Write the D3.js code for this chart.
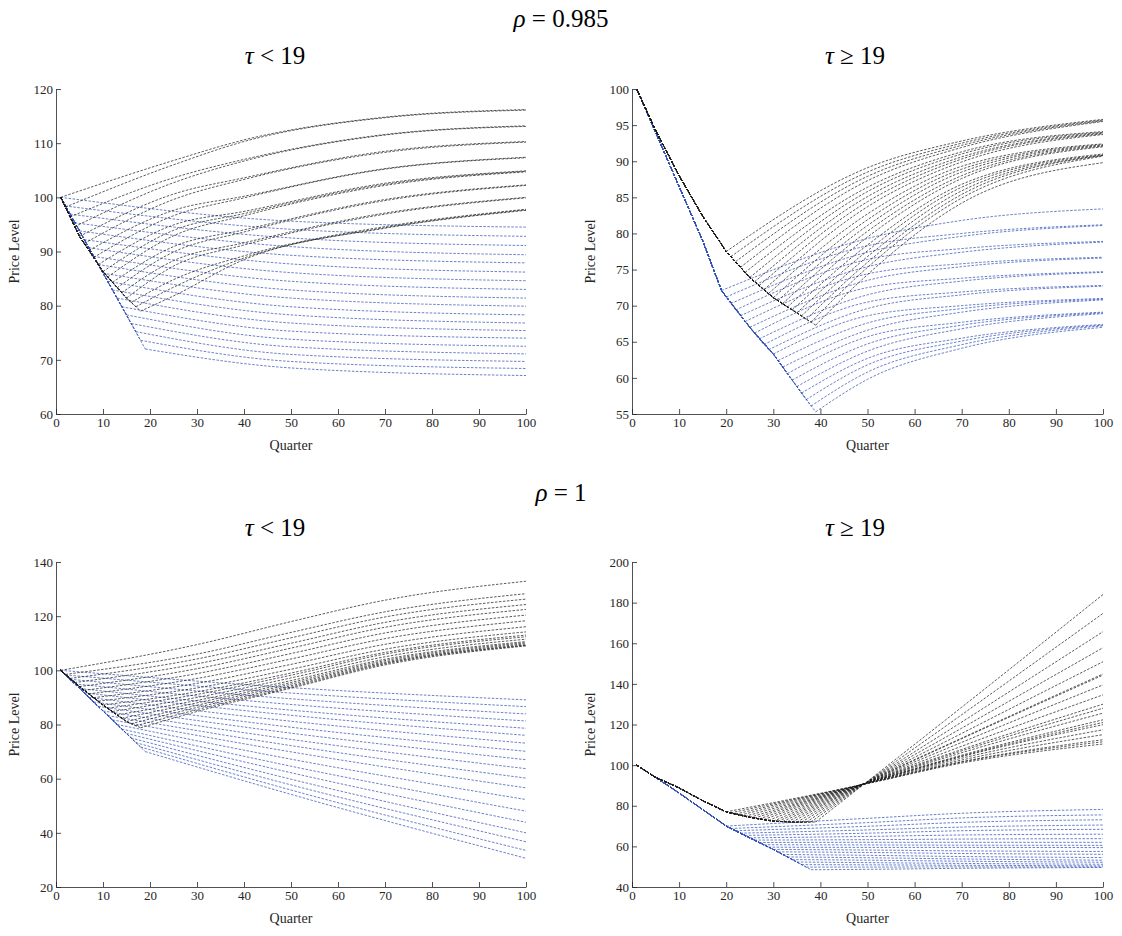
<!DOCTYPE html>
<html>
<head>
<meta charset="utf-8">
<script src="https://cdn.jsdelivr.net/npm/d3@7/dist/d3.min.js"></script>
<style>
  body { margin: 0; background: #fff; }
  text { font-family: "Liberation Serif", "DejaVu Serif", serif; }
</style>
</head>
<body>
<svg id="chart" width="1122" height="936"></svg>
<script>
// ---------- data ----------
var quarterTicks = [0, 10, 20, 30, 40, 50, 60, 70, 80, 90, 100];

// rho = 0.985, tau < 19
var tlBlackDescX = [1, 5, 10, 15, 18];
var tlBlackDescY = [100, 92.8, 86.3, 81.4, 79.0];
var tlBlackTau = [1,2,3,4,5,6,7,8,9,10,11,12,13,14,15,16,17,18];
var tlBlackKink = [100,98.2,96.4,94.6,92.8,91.5,90.2,88.9,87.6,86.3,85.3,84.3,83.3,82.4,81.4,80.6,79.8,79.0];
var tlBlackGridX = [25, 40, 70, 100];
var tlBlack25 = [106.8,106.0,103.6,102.7,100.6,99.6,97.6,96.6,94.9,93.9,92.9,90.9,89.9,88.3,87.3,84.8,83.4,81.8];
var tlBlack40 = [110.6,110.3,107.0,106.7,103.6,103.3,100.2,99.9,97.4,97.0,96.6,94.0,93.6,91.6,91.2,89.2,88.8,88.5];
var tlBlack70 = [114.8,114.7,111.6,111.5,108.5,108.3,105.3,105.2,102.6,102.4,102.2,99.6,99.4,97.1,96.9,94.6,94.4,94.3];
var tlBlack100 = [116.2,116.1,113.2,113.1,110.3,110.2,107.4,107.3,104.9,104.8,104.7,102.3,102.2,100.0,99.9,97.8,97.7,97.6];
var tlBlueDescX = [1, 19];
var tlBlueDescY = [100, 72];
var tlBlueTau = [1,2,3,4,5,6,7,8,9,10,11,12,13,14,15,16,17,18,19];
var tlBlueKink = [100,98.4,96.9,95.3,93.8,92.2,90.7,89.1,87.6,86.0,84.5,82.9,81.4,79.8,78.3,76.7,75.2,73.6,72.0];
var tlBlueGridX = [50, 100];
var tlBlue50 = [95.6,94.1,92.5,90.9,89.3,87.7,86.1,84.5,82.9,81.4,79.8,78.3,76.8,75.3,73.8,72.4,71.0,69.7,68.5];
var tlBlue100 = [94.5,92.8,91.1,89.4,87.9,86.2,84.6,83.0,81.4,79.9,78.3,76.8,75.4,74.0,72.5,71.1,69.7,68.4,67.1];

// rho = 0.985, tau >= 19
var trBlackDescX = [1, 5, 10, 15, 20, 25, 30, 35, 39];
var trBlackDescY = [100, 94.3, 88.0, 82.4, 77.5, 73.9, 71.1, 69.0, 67.3];
var trBlackTau = [20,21,22,23,24,25,26,27,28,29,30,31,32,33,34,35,36,37,38,39];
var trBlackKink = [77.5,76.8,76.1,75.3,74.6,73.9,73.3,72.8,72.2,71.7,71.1,70.7,70.3,69.8,69.4,69.0,68.6,68.1,67.7,67.3];
var trBlackGridX = [50, 70, 100];
var trBlack50 = [89.1,88.5,87.9,87.3,86.4,85.8,85.1,84.4,83.7,82.7,81.9,81.1,80.3,79.5,78.4,77.6,76.8,76.0,75.3,74.3];
var trBlack70 = [92.8,92.5,92.2,91.9,91.3,91.0,90.6,90.3,89.9,89.3,88.9,88.5,88.0,87.6,86.8,86.4,85.9,85.4,84.9,84.2];
var trBlack100 = [95.8,95.7,95.6,95.5,94.1,94.0,93.9,93.8,93.7,92.4,92.3,92.2,92.1,92.0,91.0,90.9,90.8,90.8,90.7,89.8];
var trBlueDescX = [1, 5, 10, 15, 19, 25, 30, 35, 39];
var trBlueDescY = [100, 94.0, 86.5, 79.0, 72.1, 67.0, 63.3, 58.8, 55.3];
var trBlueTau = [19,20,21,22,23,24,25,26,27,28,29,30,31,32,33,34,35,36,37,38,39];
var trBlueKink = [72.1,71.2,70.3,69.4,68.6,67.8,67.0,66.2,65.4,64.6,63.9,63.3,62.4,61.5,60.6,59.7,58.8,57.9,57.0,56.1,55.3];
var trBlueGridX = [50, 70, 100];
var trBlue50 = [79.3,78.3,77.4,76.4,75.4,74.4,73.5,72.5,71.5,70.5,69.6,68.6,67.6,66.6,65.7,64.7,63.7,62.7,61.8,60.8,59.8];
var trBlue70 = [81.8,80.0,79.6,77.9,77.4,75.8,75.4,73.8,73.4,71.9,71.5,70.0,69.6,69.1,67.7,67.3,66.8,65.5,65.1,64.6,64.1];
var trBlue100 = [83.4,81.2,81.1,78.9,78.8,76.7,76.6,74.7,74.6,72.8,72.7,71.0,70.9,70.8,69.1,69.0,68.9,67.4,67.3,67.2,67.0];

// rho = 1, tau < 19
var blBlackDescX = [1, 5, 10, 15, 19];
var blBlackDescY = [100, 94, 87.2, 81.1, 78.0];
var blBlackTau = [1,2,3,4,5,6,7,8,9,10,11,12,13,14,15,16,17,18];
var blBlackKink = [100,98.5,97.0,95.5,94.0,92.6,91.3,89.9,88.6,87.2,86.0,84.8,83.5,82.3,81.1,80.3,79.5,78.8];
var blBlackGridX = [30, 50, 70, 100];
var blBlack30 = [109.5,106.0,104.2,102.4,100.6,98.8,97.0,95.2,93.5,92.1,91.1,90.0,88.9,88.0,87.1,86.3,85.5,84.8];
var blBlack50 = [118.0,114.0,112.0,110.0,108.2,106.2,104.2,102.2,100.4,99.0,98.2,97.2,96.2,95.5,94.9,94.3,93.8,93.4];
var blBlack70 = [125.9,121.6,119.7,117.7,115.9,113.8,111.7,109.6,107.8,106.6,106.0,105.0,104.1,103.6,103.1,102.7,102.4,102.0];
var blBlack100 = [132.9,128.3,126.3,124.3,122.5,120.4,118.3,116.1,114.2,113.0,112.4,111.5,110.6,110.2,109.8,109.4,109.2,109.0];
var blBlueDescX = [1, 19];
var blBlueDescY = [100, 70];
var blBlueTau = [1,2,3,4,5,6,7,8,9,10,11,12,13,14,15,16,17,18,19];
var blBlueKink = [100,98.3,96.7,95.0,93.3,91.7,90.0,88.3,86.7,85.0,83.3,81.7,80.0,78.3,76.7,75.0,73.3,71.7,70.0];
var blBlueGridX = [50, 100];
var blBlue50 = [93.6,91.6,89.5,87.4,85.3,83.4,81.2,79.0,76.8,74.5,72.2,69.9,67.2,64.6,62.2,59.8,57.7,55.8,54.2];
var blBlue100 = [89.1,86.6,83.9,81.3,78.6,76.0,73.1,70.1,67.0,63.7,60.2,56.6,52.3,48.0,43.9,40.0,36.7,33.5,30.6];

// rho = 1, tau >= 19
var brBlackDescX = [1, 5, 10, 15, 20, 25, 30, 35, 39];
var brBlackDescY = [100, 94.0, 88.8, 82.5, 77.0, 74.3, 72.4, 71.9, 72.0];
var brBlackTau = [20,21,22,23,24,25,26,27,28,29,30,31,32,33,34,35,36,37,38,39];
var brBlackKink = [77.0,76.5,75.9,75.4,74.8,74.3,73.9,73.5,73.2,72.8,72.4,72.3,72.2,72.1,72.0,71.9,71.9,71.9,72.0,72.0];
var brBlackGridX = [50, 70, 100];
var brBlack50 = [90.9,91.0,91.1,91.1,91.2,91.2,91.3,91.3,91.4,91.4,91.5,91.5,91.6,91.6,91.7,91.7,91.8,91.8,91.9,92.0];
var brBlack70 = [101.0,101.5,101.7,102.5,103.4,104.2,104.5,104.9,106.1,107.0,107.7,109.3,111.2,113.0,113.3,115.6,118.2,121.2,124.8,128.5];
var brBlack100 = [110.4,111.5,112.5,115.0,117.4,119.9,121.0,122.3,125.6,128.0,130.0,134.6,139.5,144.3,144.9,150.9,157.8,165.7,174.7,184.0];
var brBlueDescX = [1, 10, 20, 25, 30, 35, 38];
var brBlueDescY = [100, 86.3, 70, 64.2, 58.5, 52.3, 48.5];
var brBlueTau = [20,21,22,23,24,25,26,27,28,29,30,31,32,33,34,35,36,37,38];
var brBlueKink = [70.0,68.8,67.7,66.5,65.4,64.2,63.1,61.9,60.8,59.6,58.5,57.3,56.0,54.8,53.5,52.3,51.0,49.8,48.5];
var brBlueGridX = [50, 70, 100];
var brBlue50 = [73.8,71.7,69.9,68.1,66.5,64.9,63.3,62.0,60.7,59.5,58.2,57.0,55.6,54.4,53.2,52.0,50.9,49.8,48.7];
var brBlue70 = [76.3,74.0,71.8,69.5,67.7,65.6,63.6,62.0,60.6,59.5,57.8,56.5,55.0,53.8,52.7,51.6,50.7,49.9,49.2];
var brBlue100 = [78.2,75.5,73.1,70.5,68.4,66.0,63.8,62.0,60.5,59.4,57.5,56.1,54.5,53.2,52.2,51.2,50.4,49.9,49.6];

// ---------- drawing ----------
var svg = d3.select("#chart");
var BLACK = "#1a1a1a", BLUE = "#2f4fb5";

// each line: straight descent up to its kink, then smooth path to the end
function group(descX, descY, tau, kink, gridX, cols) {
  return tau.map(function (t, i) {
    var head = [], tail = [[t, kink[i]]];
    descX.forEach(function (x, j) { if (x < t - 0.5) head.push([x, descY[j]]); });
    head.push([t, kink[i]]);
    gridX.forEach(function (x, j) { if (x > t + 2) tail.push([x, cols[j][i]]); });
    return { head: head, tail: tail };
  });
}

function panel(cfg) {
  var x = d3.scaleLinear().domain([0, 100]).range([cfg.x0, cfg.x1]);
  var y = d3.scaleLinear().domain(cfg.yDomain).range([cfg.y1, cfg.y0]);
  var straight = d3.line().x(function (d) { return x(d[0]); }).y(function (d) { return y(d[1]); });
  var smooth = d3.line().x(function (d) { return x(d[0]); }).y(function (d) { return y(d[1]); })
    .curve(d3.curveMonotoneX);
  var g = svg.append("g");

  [[cfg.blue, BLUE], [cfg.black, BLACK]].forEach(function (s) {
    g.selectAll(null).data(s[0]).enter().append("path")
      .attr("d", function (d) { return straight(d.head) + smooth(d.tail); })
      .attr("fill", "none").attr("stroke", s[1])
      .attr("stroke-width", 0.8).attr("stroke-dasharray", "2.5,1.5")
      .attr("opacity", 0.9);
  });

  var xa = g.append("g").attr("transform", "translate(0," + cfg.y1 + ")")
    .call(d3.axisBottom(x).tickValues(quarterTicks).tickSizeInner(-5).tickSizeOuter(0).tickPadding(4));
  var ya = g.append("g").attr("transform", "translate(" + cfg.x0 + ",0)")
    .call(d3.axisLeft(y).tickValues(cfg.yTicks).tickSizeInner(-5).tickSizeOuter(0).tickPadding(3));
  [xa, ya].forEach(function (a) {
    a.selectAll("path, line").attr("stroke", "#262626").attr("stroke-width", 0.8);
    a.selectAll("text").attr("fill", "#262626").style("font-size", "13px")
      .style("font-family", "'Liberation Serif', serif");
  });

  g.append("text").attr("x", (cfg.x0 + cfg.x1) / 2).attr("y", cfg.y1 + 36)
    .attr("text-anchor", "middle").style("font-size", "14px").attr("fill", "#262626").text("Quarter");
  g.append("text").attr("transform", "translate(" + (cfg.x0 - 37) + "," + ((cfg.y0 + cfg.y1) / 2) + ") rotate(-90)")
    .attr("text-anchor", "middle").style("font-size", "14px").attr("fill", "#262626").text("Price Level");
}

function title(xc, yb, greek, rest) {
  var t = svg.append("text").attr("x", xc).attr("y", yb).attr("text-anchor", "middle")
    .style("font-size", "25px").attr("fill", "#000");
  t.append("tspan").style("font-style", "italic").text(greek);
  t.append("tspan").text(rest);
}

title(561, 27, "\u03C1", " = 0.985");
title(275, 64, "\u03C4", " < 19");
title(855, 64, "\u03C4", " \u2265 19");
title(561, 501, "\u03C1", " = 1");
title(275, 536, "\u03C4", " < 19");
title(855, 536, "\u03C4", " \u2265 19");

panel({ x0: 56, x1: 526, y0: 89, y1: 414, yDomain: [60, 120], yTicks: d3.range(60, 121, 10),
  black: group(tlBlackDescX, tlBlackDescY, tlBlackTau, tlBlackKink, tlBlackGridX, [tlBlack25, tlBlack40, tlBlack70, tlBlack100]),
  blue: group(tlBlueDescX, tlBlueDescY, tlBlueTau, tlBlueKink, tlBlueGridX, [tlBlue50, tlBlue100]) });
panel({ x0: 632, x1: 1103, y0: 89, y1: 414, yDomain: [55, 100], yTicks: d3.range(55, 101, 5),
  black: group(trBlackDescX, trBlackDescY, trBlackTau, trBlackKink, trBlackGridX, [trBlack50, trBlack70, trBlack100]),
  blue: group(trBlueDescX, trBlueDescY, trBlueTau, trBlueKink, trBlueGridX, [trBlue50, trBlue70, trBlue100]) });
panel({ x0: 56, x1: 526, y0: 562, y1: 887, yDomain: [20, 140], yTicks: d3.range(20, 141, 20),
  black: group(blBlackDescX, blBlackDescY, blBlackTau, blBlackKink, blBlackGridX, [blBlack30, blBlack50, blBlack70, blBlack100]),
  blue: group(blBlueDescX, blBlueDescY, blBlueTau, blBlueKink, blBlueGridX, [blBlue50, blBlue100]) });
panel({ x0: 632, x1: 1103, y0: 562, y1: 887, yDomain: [40, 200], yTicks: d3.range(40, 201, 20),
  black: group(brBlackDescX, brBlackDescY, brBlackTau, brBlackKink, brBlackGridX, [brBlack50, brBlack70, brBlack100]),
  blue: group(brBlueDescX, brBlueDescY, brBlueTau, brBlueKink, brBlueGridX, [brBlue50, brBlue70, brBlue100]) });
</script>
</body>
</html>
